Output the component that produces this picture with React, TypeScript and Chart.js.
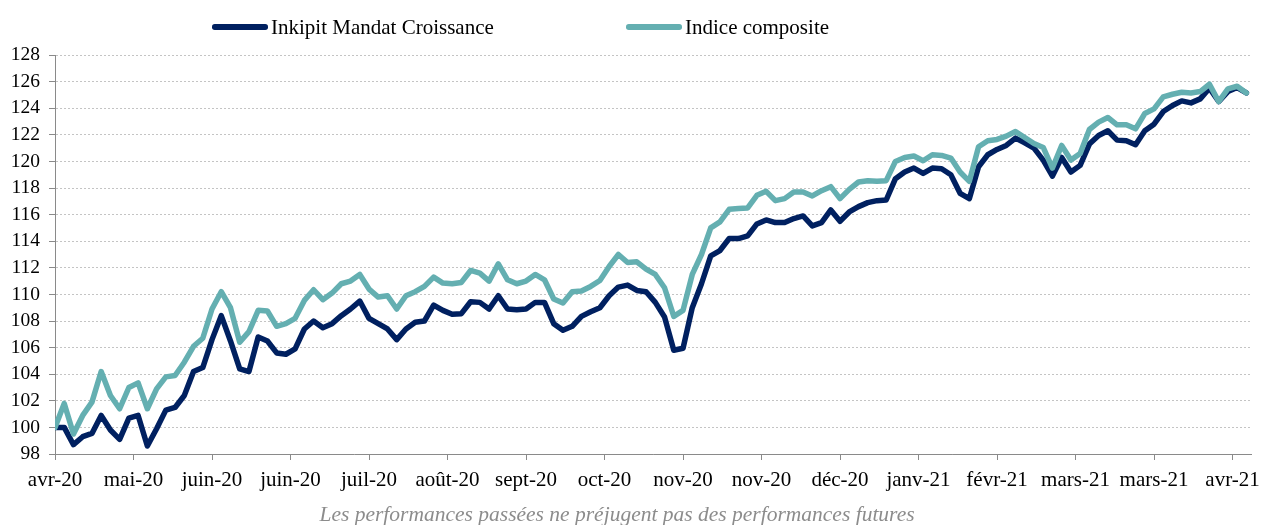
import React, { useEffect, useRef } from 'react';
import { Chart, registerables } from 'chart.js';

Chart.register(...registerables);

// ---- data ----
const tickLabels = [
  'avr-20', 'mai-20', 'juin-20', 'juin-20', 'juil-20', 'août-20', 'sept-20', 'oct-20',
  'nov-20', 'nov-20', 'déc-20', 'janv-21', 'févr-21', 'mars-21', 'mars-21', 'avr-21',
];
const yTickValues = [98, 100, 102, 104, 106, 108, 110, 112, 114, 116, 118, 120, 122, 124, 126, 128];
const seriesNames = ['Inkipit Mandat Croissance', 'Indice composite'];

// one value every 2 trading days, a labelled tick every 17 trading days
const SAMPLE_STEP = 2;
const TICK_EVERY = 17;
const LAST_DAY = 259;

const mandat = [
  100, 100, 98.7, 99.3, 99.55, 100.9, 99.8, 99.1, 100.7, 100.9,
  98.6, 99.9, 101.3, 101.5, 102.4, 104.2, 104.5, 106.6, 108.4, 106.5,
  104.4, 104.2, 106.8, 106.5, 105.6, 105.5, 105.9, 107.4, 108.0, 107.5,
  107.8, 108.4, 108.9, 109.5, 108.2, 107.8, 107.4, 106.6, 107.4, 107.9,
  108.0, 109.2, 108.8, 108.5, 108.55, 109.45, 109.4, 108.9, 109.9, 108.9,
  108.85, 108.9, 109.4, 109.4, 107.8, 107.3, 107.6, 108.35, 108.7, 109.0,
  109.9, 110.55, 110.7, 110.3, 110.2, 109.4, 108.3, 105.8, 105.95, 109.0,
  110.8, 112.9, 113.3, 114.2, 114.2, 114.4, 115.3, 115.6, 115.4, 115.4,
  115.7, 115.9, 115.15, 115.4, 116.35, 115.5, 116.2, 116.6, 116.9, 117.05,
  117.1, 118.7, 119.2, 119.5, 119.1, 119.5, 119.45, 119.0, 117.6, 117.2,
  119.6, 120.5, 120.9, 121.2, 121.75, 121.4, 121.0, 120.1, 118.9, 120.3,
  119.2, 119.7, 121.3, 121.95, 122.3, 121.6, 121.55, 121.25, 122.3, 122.8,
  123.75, 124.2, 124.55, 124.4, 124.7, 125.5, 124.5, 125.25, 125.55, 125.15,
];

const indice = [
  100, 101.8, 99.5, 100.9, 101.9, 104.2, 102.4, 101.4, 103.0, 103.35,
  101.4, 102.9, 103.8, 103.9, 104.9, 106.1, 106.7, 108.9, 110.2, 109.0,
  106.4, 107.2, 108.8, 108.75, 107.6, 107.8, 108.2, 109.55, 110.35, 109.6,
  110.1, 110.8, 111.0, 111.5, 110.4, 109.8, 109.9, 108.9, 109.9, 110.2,
  110.6, 111.3, 110.85, 110.8, 110.9, 111.8, 111.6, 111.0, 112.3, 111.1,
  110.8, 111.0, 111.5, 111.1, 109.65, 109.35, 110.2, 110.25, 110.6, 111.05,
  112.1, 113.0, 112.4, 112.45, 111.9, 111.5, 110.5, 108.35, 108.8, 111.5,
  113.0, 115.0, 115.45, 116.4, 116.45, 116.5, 117.45, 117.75, 117.05, 117.2,
  117.7, 117.7, 117.4, 117.8, 118.1, 117.2, 117.9, 118.45, 118.55, 118.5,
  118.55, 120.0, 120.3, 120.4, 120.05, 120.5, 120.45, 120.25, 119.2, 118.5,
  121.1, 121.55, 121.65, 121.9, 122.25, 121.8, 121.35, 121.05, 119.5, 121.2,
  120.1, 120.6, 122.4, 122.95, 123.3, 122.75, 122.75, 122.45, 123.6, 123.95,
  124.85, 125.05, 125.2, 125.15, 125.25, 125.8, 124.5, 125.45, 125.65, 125.15,
];

// ---- styles ----
const FONT = '"Liberation Serif", "Times New Roman", serif';
const DARK = '#002060';
const TEAL = '#64AFB1';
const AXIS = '#8a8a8a';
const GRID = '#c4c4c4';

const toPoints = (values: number[]) => values.map((v, k) => ({ x: k * SAMPLE_STEP, y: v }));

export default function App() {
  const canvasRef = useRef<HTMLCanvasElement>(null);

  useEffect(() => {
    if (!canvasRef.current) return;
    const chart = new Chart(canvasRef.current, {
      type: 'line',
      data: {
        datasets: [
          {
            label: seriesNames[0],
            data: toPoints(mandat),
            borderColor: DARK,
            backgroundColor: DARK,
            borderWidth: 5.5,
            pointRadius: 0,
            tension: 0,
            borderJoinStyle: 'round',
            borderCapStyle: 'round',
            order: 1,
          },
          {
            label: seriesNames[1],
            data: toPoints(indice),
            borderColor: TEAL,
            backgroundColor: TEAL,
            borderWidth: 5.5,
            pointRadius: 0,
            tension: 0,
            borderJoinStyle: 'round',
            borderCapStyle: 'round',
            order: 0,
          },
        ],
      },
      options: {
        responsive: false,
        animation: false,
        layout: { padding: { top: 55, right: 10, bottom: 0, left: 0 } },
        plugins: {
          legend: { display: false },
          tooltip: { enabled: false },
        },
        scales: {
          x: {
            type: 'linear',
            min: 0,
            max: LAST_DAY,
            afterBuildTicks: (axis: any) => {
              axis.ticks = tickLabels.map((_, k) => ({ value: k * TICK_EVERY }));
            },
            afterFit: (axis: any) => {
              axis.height = 71;
              axis.paddingLeft = 0;
              axis.paddingRight = 0;
            },
            ticks: {
              autoSkip: false,
              maxRotation: 0,
              minRotation: 0,
              padding: 8,
              color: '#000',
              font: { family: FONT, size: 21 },
              callback: (value: any) => tickLabels[Math.round(Number(value) / TICK_EVERY)] ?? '',
            },
            grid: {
              drawOnChartArea: false,
              drawTicks: true,
              tickLength: 6,
              tickColor: AXIS,
              tickWidth: 1,
            },
            border: { color: AXIS, width: 1 },
          },
          y: {
            min: 98,
            max: 128,
            afterBuildTicks: (axis: any) => {
              axis.ticks = yTickValues.map((v) => ({ value: v }));
            },
            afterFit: (axis: any) => {
              axis.width = 55;
            },
            ticks: {
              padding: 9,
              color: '#000',
              font: { family: FONT, size: 19.5 },
              callback: (value: any) => String(value),
            },
            grid: {
              color: GRID,
              lineWidth: 1,
              drawTicks: true,
              tickLength: 6,
              tickColor: AXIS,
              tickWidth: 1,
            },
            border: { color: AXIS, width: 1, dash: [2, 2] },
          },
        },
      },
    });
    return () => chart.destroy();
  }, []);

  const legendText: React.CSSProperties = {
    position: 'absolute',
    top: 16,
    fontFamily: FONT,
    fontSize: 21,
    lineHeight: '22px',
    color: '#000',
    whiteSpace: 'nowrap',
  };
  const swatch: React.CSSProperties = {
    position: 'absolute',
    top: 24,
    width: 56,
    height: 5.5,
    borderRadius: 2.75,
  };

  return (
    <div
      style={{
        position: 'absolute',
        left: 0,
        top: 0,
        width: 1261,
        height: 525,
        overflow: 'hidden',
        background: '#fff',
      }}
    >
      <canvas ref={canvasRef} width={1261} height={525} style={{ position: 'absolute', left: 0, top: 0 }} />
      <div style={{ ...swatch, left: 212, background: DARK }} />
      <div style={{ ...legendText, left: 271 }}>{seriesNames[0]}</div>
      <div style={{ ...swatch, left: 626, background: TEAL }} />
      <div style={{ ...legendText, left: 685 }}>{seriesNames[1]}</div>
      <div
        style={{
          position: 'absolute',
          left: 0,
          width: 1234,
          top: 503,
          textAlign: 'center',
          fontFamily: FONT,
          fontStyle: 'italic',
          fontSize: 21.5,
          lineHeight: '22px',
          color: '#8c8c8c',
          whiteSpace: 'nowrap',
        }}
      >
        Les performances passées ne préjugent pas des performances futures
      </div>
    </div>
  );
}
